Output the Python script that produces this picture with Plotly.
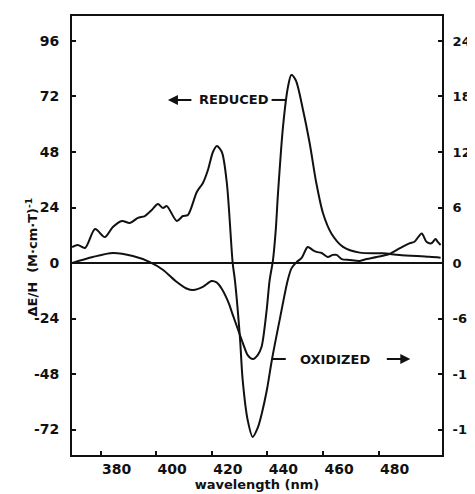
import plotly.graph_objects as go

# ---- data ----
# Oxidized spectrum (right axis units)
ox_wl = [369.7, 371.8, 374.4, 378.0, 381.5, 384.4, 387.7, 390.5, 393.4, 395.9, 398.4, 400.6,
         402.4, 403.8, 407.4, 409.6, 411.4, 414.6, 416.8, 418.6, 420.4, 421.8, 423.6, 425.4,
         427.5, 428.3, 430.1, 431.1, 432.9, 434.7, 436.5, 438.0, 439.8, 441.6, 444.4, 447.3,
         448.7, 450.5, 452.3, 454.5, 456.3, 457.7, 459.5, 461.7, 463.5, 464.9, 466.7, 469.6,
         473.2, 475.7, 479.3, 483.9, 487.5, 491.1, 492.9, 495.5, 497.2, 499.0, 500.5, 501.2, 502.3]
ox_val = [1.73, 1.95, 1.63, 3.68, 2.80, 3.90, 4.55, 4.33, 4.88, 5.08, 5.73, 6.38,
          5.95, 6.15, 4.55, 5.08, 5.20, 7.68, 8.65, 10.05, 12.0, 12.65, 12.0, 8.65,
          0.0, -1.85, -8.0, -12.65, -16.98, -18.8, -17.83, -16.23, -13.73, -10.48, -6.15, -1.85,
          -0.55, 0.10, 0.55, 1.73, 1.40, 1.20, 1.08, 0.65, 0.88, 0.88, 0.43, 0.33,
          0.23, 0.43, 0.65, 0.98, 1.58, 2.13, 2.30, 3.20, 2.30, 2.13, 2.60, 2.30, 1.95]

# Reduced spectrum (left axis units)
red_wl = [369.7, 377.2, 384.4, 391.6, 397.7, 402.5, 407.3, 410.9, 413.3, 416.9, 419.9, 421.7,
          423.5, 425.9, 427.6, 431.2, 432.9, 434.8, 436.5, 437.9, 439.6, 440.8, 442.0, 443.0,
          443.8, 445.6, 447.4, 448.6, 450.2, 452.8, 455.2, 457.6, 460.0, 463.0, 467.2, 473.2,
          481.5, 487.5, 498.3, 502.3]
red_val = [0.0, 2.6, 4.3, 3.0, 0.4, -3.0, -8.1, -11.0, -11.7, -10.2, -7.8, -8.4,
           -11.0, -16.8, -22.6, -34.7, -39.8, -41.5, -39.8, -36.2, -21.7, -7.4, 1.3, 14.3,
           30.1, 58.9, 76.2, 81.3, 79.0, 66.2, 51.8, 34.5, 21.5, 12.8, 7.0, 4.5,
           4.2, 3.5, 2.7, 2.3]

x_ticks = [380, 400, 420, 440, 460, 480]
x_tick_text = ["380", "400", "420", "440", "460", "480"]
left_ticks = [96, 72, 48, 24, 0, -24, -48, -72]
left_tick_text = ["96", "72", "48", "24", "0", "-24", "-48", "-72"]
right_ticks = [24, 18, 12, 6, 0, -6, -12, -18]
right_tick_text = ["24", "18", "12", "6", "0", "-6", "-12", "-18"]

FONT = "DejaVu Sans"
INK = "#111111"

fig = go.Figure()
fig.add_trace(go.Scatter(x=red_wl, y=red_val, mode="lines", yaxis="y",
                         line=dict(color=INK, width=2, shape="spline", smoothing=0.8),
                         showlegend=False, hoverinfo="skip"))
fig.add_trace(go.Scatter(x=ox_wl, y=ox_val, mode="lines", yaxis="y2",
                         line=dict(color=INK, width=2, shape="spline", smoothing=0.8),
                         showlegend=False, hoverinfo="skip"))

tickfont = dict(family=FONT, size=14, color=INK, weight="bold")

fig.update_layout(
    width=467, height=486,
    margin=dict(l=64, r=33, t=8, b=39),
    paper_bgcolor="white", plot_bgcolor="white",
    xaxis=dict(range=[369.7, 502.8], tickvals=x_ticks, ticktext=x_tick_text,
               ticks="inside", ticklen=4, tickwidth=2, tickcolor=INK,
               showline=True, linecolor=INK, linewidth=2, mirror=True,
               showgrid=False, zeroline=False, tickfont=tickfont, automargin=False,
               ticklabelshift=16, ticklabelstandoff=0,
               title=dict(text="wavelength (nm)", font=dict(family=FONT, size=13, color=INK, weight="bold"),
                          standoff=0)),
    yaxis=dict(range=[-83.0, 106.8], tickvals=left_ticks, ticktext=left_tick_text,
               ticks="inside", ticklen=4, tickwidth=2, tickcolor=INK,
               showline=True, linecolor=INK, linewidth=2, mirror=False,
               showgrid=False, zeroline=True, zerolinecolor=INK, zerolinewidth=1.5,
               tickfont=tickfont, ticklabelstandoff=8, automargin=False),
    yaxis2=dict(range=[-20.75, 26.7], tickvals=right_ticks, ticktext=right_tick_text,
                overlaying="y", side="right", automargin=False,
                ticks="inside", ticklen=4, tickwidth=2, tickcolor=INK,
                showline=True, linecolor=INK, linewidth=2,
                showgrid=False, zeroline=False, tickfont=dict(tickfont, size=13),
                ticklabelstandoff=6),
)

# y-axis title
fig.add_annotation(x=0, y=0.45, xref="paper", yref="paper", xanchor="center", yanchor="middle",
                   xshift=-40, textangle=-90, showarrow=False,
                   text="ΔE/H  (M·cm·T)<sup>-1</sup>",
                   font=dict(family=FONT, size=13, color=INK, weight="bold"))

lblfont = dict(family=FONT, size=13, color=INK, weight="bold")
fig.add_annotation(x=428.1, y=70.5, xref="x", yref="y", text="REDUCED", showarrow=False, font=lblfont)
fig.add_annotation(x=404.2, y=70.5, xref="x", yref="y", ax=25, ay=0, text="",
                   showarrow=True, arrowhead=2, arrowsize=1, arrowwidth=2, arrowcolor=INK)
fig.add_shape(type="line", x0=441.5, x1=446.4, y0=70.5, y1=70.5, xref="x", yref="y",
              line=dict(color=INK, width=2))

fig.add_annotation(x=464.2, y=-41.5, xref="x", yref="y", text="OXIDIZED", showarrow=False, font=lblfont)
fig.add_annotation(x=491.4, y=-41.5, xref="x", yref="y", ax=-25, ay=0, text="",
                   showarrow=True, arrowhead=2, arrowsize=1, arrowwidth=2, arrowcolor=INK)
fig.add_shape(type="line", x0=441.7, x1=446.6, y0=-41.5, y1=-41.5, xref="x", yref="y",
              line=dict(color=INK, width=2))

fig.write_html("out.html")
